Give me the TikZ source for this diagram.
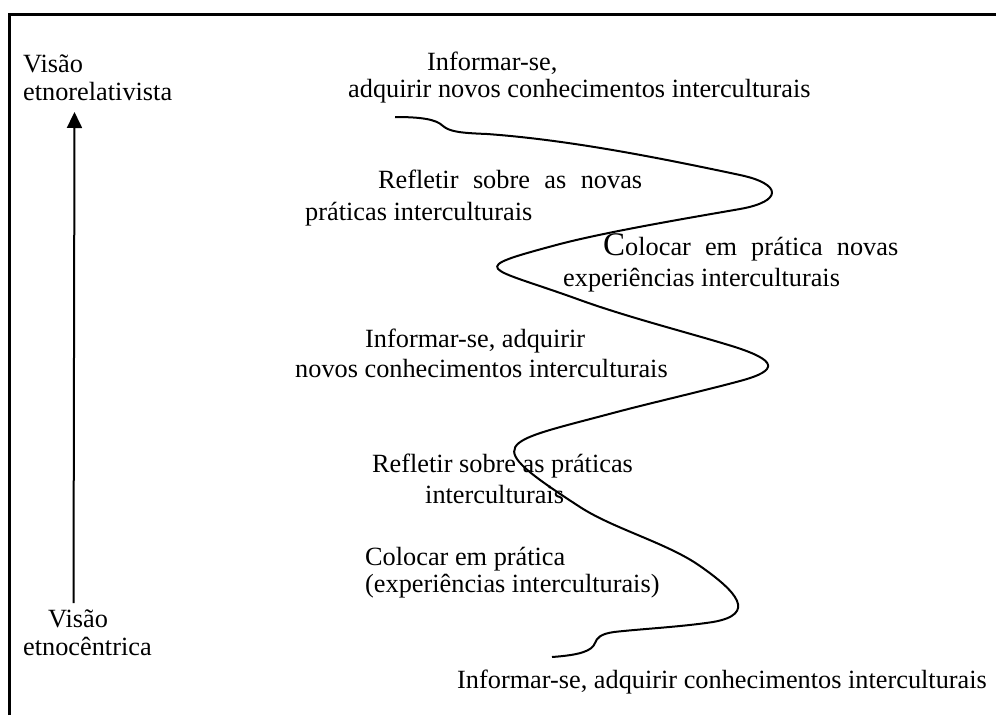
\documentclass[tikz,border=0pt]{standalone}
\usepackage{fontspec}
\setmainfont{Liberation Serif}
\usetikzlibrary{arrows.meta}
\begin{document}
\begin{tikzpicture}[x=1pt,y=1pt,
  lbl/.style={anchor=base west,inner sep=0pt,font=\fontsize{26.3}{30}\selectfont},
  frameline/.style={line width=3pt},
  wave/.style={line width=2pt,line join=round},
  axis/.style={line width=2pt,-{Triangle[length=16pt,width=15pt]}}]
\useasboundingbox (0,0) rectangle (996,-715);

% open frame: top edge and left edge
\draw[frameline] (9,-715) -- (9,-14) -- (996,-14);

% vertical axis from ethnocentric to ethnorelativist view
\coordinate (axbot) at (73.5,-603);
\coordinate (axtop) at (74.5,-112);
\draw[axis] (axbot) -- (axtop);

\node[lbl] (vtop1) at (23,-72) {Visão};
\node[lbl] (vtop2) at (23,-100) {etnorelativista};
\node[lbl] (vbot1) at (48,-627) {Visão};
\node[lbl] (vbot2) at (23,-655) {etnocêntrica};

% stage labels along the winding path
\node[lbl] (s1a) at (427,-70) {Informar-se,};
\node[lbl] (s1b) at (348,-97) {adquirir novos conhecimentos interculturais};
\node[lbl] (s2a) at (378,-188) {\makebox[264pt][s]{Refletir sobre as novas}};
\node[lbl] (s2b) at (305,-220) {práticas interculturais};
\node[lbl] (s3a) at (603,-255) {\makebox[295pt][s]{{\fontsize{33}{33}\selectfont C}olocar em prática novas}};
\node[lbl] (s3b) at (563,-286) {experiências interculturais};
\node[lbl] (s4a) at (365,-347) {Informar-se, adquirir};
\node[lbl] (s4b) at (295,-377) {novos conhecimentos interculturais};
\node[lbl] (s5a) at (372,-472) {Refletir sobre as práticas};
\node[lbl] (s5b) at (425,-503) {interculturais};
\node[lbl] (s6a) at (365,-565) {Colocar em prática};
\node[lbl] (s6b) at (365,-592) {(experiências interculturais)};
\node[lbl] (s7) at (457,-688) {Informar-se, adquirir conhecimentos interculturais};

% the winding learning path, swinging right and left as it climbs
\draw[wave] (395,-117)
  .. controls (420,-117) and (436,-119) .. (443,-126)
  .. controls (450,-132) and (462,-133) .. (487,-134)
  .. controls (570,-140) and (660,-158) .. (740,-175)
  .. controls (782.5,-184) and (782.8,-201.4) .. (740,-209)
  .. controls (700,-216) and (610,-231) .. (560,-244)
  .. controls (462.7,-270.1) and (485.3,-265.6) .. (580,-300)
  .. controls (630,-318) and (690,-333) .. (735,-347)
  .. controls (775.3,-360.1) and (781,-370) .. (740,-381)
  .. controls (701.4,-391.4) and (649.7,-403.2) .. (613,-413)
  .. controls (497,-444) and (479.3,-441.6) .. (580,-507)
  .. controls (613.6,-528.8) and (667.2,-543) .. (700,-566)
  .. controls (736.9,-591.8) and (757.3,-614.2) .. (713,-622)
  .. controls (680,-627) and (640,-629) .. (614,-632)
  .. controls (600,-634) and (597,-638) .. (595,-643)
  .. controls (592,-651) and (580,-655) .. (552,-657);
\end{tikzpicture}
\end{document}
